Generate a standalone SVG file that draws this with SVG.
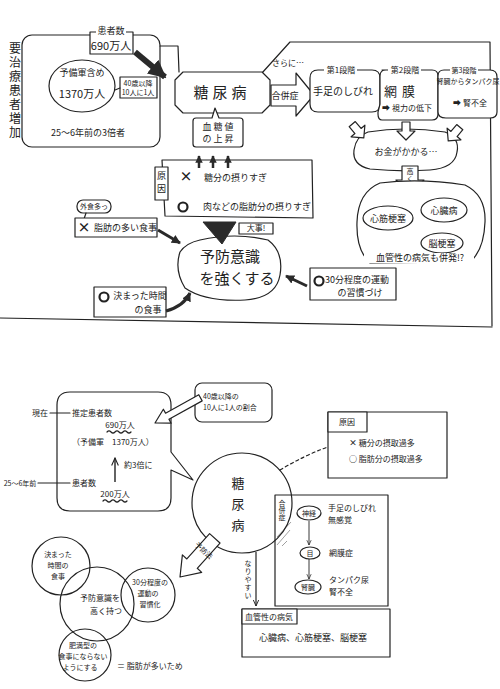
<svg xmlns="http://www.w3.org/2000/svg" width="500" height="689" viewBox="0 0 500 689">
<style>
.ln{fill:none;stroke:#222;stroke-width:1.2;stroke-linejoin:round;stroke-linecap:round}
.lw{fill:#fff;stroke:#222;stroke-width:1.2;stroke-linejoin:round}
.dk{fill:#2a2a2a;stroke:#2a2a2a}
.t{font-family:"Noto Sans CJK JP","Noto Sans",sans-serif;fill:#222;text-anchor:middle}
.s7{font-size:7px}.s8{font-size:8px}.s9{font-size:9px}.s10{font-size:10px}.s11{font-size:11px}.s13{font-size:13px}.s15{font-size:15px}
.st{text-anchor:start}
.v{writing-mode:vertical-rl;text-anchor:start}
</style>
<defs>
<marker id="ah" viewBox="0 0 10 10" refX="9" refY="5" markerWidth="3" markerHeight="3" orient="auto"><path d="M0,0 L10,5 L0,10 Z" fill="#2a2a2a"/></marker>
<marker id="at" viewBox="0 0 10 10" refX="9" refY="5" markerWidth="6" markerHeight="6" orient="auto"><path d="M0,1 L9,5 L0,9" fill="none" stroke="#222" stroke-width="1.3"/></marker>
<path id="oa" d="M-4,-9 L4,-9 L4,0 L9,0 L0,9 L-9,0 L-4,0 Z"/>
</defs>

<!-- ============ TOP HALF ============ -->
<g id="frames">
<rect class="ln" x="22" y="35" width="138" height="112" rx="10"/>
<path class="ln" d="M160,46 L178,46 L179,72"/>
<path class="ln" d="M262,73 L290,42 L490,42 L492,326"/>
<path class="ln" d="M0,318 L492,327"/>
</g>

<g id="title">
<text class="t v" x="15" y="42" style="font-size:12px;letter-spacing:2px">要治療患者増加</text>
</g>

<g id="n-patients">
<rect class="lw" x="90" y="32" width="43" height="22"/>
<rect x="96" y="27" width="30" height="8" fill="#fff"/>
<text class="t s9" x="111" y="34">患者数</text>
<text class="t s11" x="111" y="50">690万人</text>
</g>

<g id="n-reserve">
<ellipse class="ln" cx="82" cy="86" rx="33" ry="26"/>
<text class="t s9" x="82" y="76">予備軍含め</text>
<text class="t s11" x="82" y="98">1370万人</text>
</g>

<g id="n-40">
<rect class="lw" x="120" y="77" width="37" height="21"/>
<path class="ln" d="M120,88 L115,90"/>
<text class="t s7" x="138" y="86">40歳以降</text>
<text class="t s7" x="138" y="95">10人に1人</text>
</g>

<g id="n-25"><text class="t s9" x="88" y="136">25～6年前の3倍者</text></g>

<g id="n-dm">
<path class="lw" d="M183,72 L262,72 L270,80 L270,105 L262,113 L183,113 L175,105 L175,80 Z"/>
<text class="t s15" x="222" y="98" letter-spacing="4">糖尿病</text>
</g>

<g id="n-sugar">
<path class="lw" d="M196,118 L212,118 L215,108 L219,118 L240,118 Q243,118 243,121 L243,144 Q243,147 240,147 L196,147 Q193,147 193,144 L193,121 Q193,118 196,118 Z"/>
<text class="t s9" x="218" y="130">血 糖 値</text>
<text class="t s9" x="218" y="142">の 上 昇</text>
</g>

<g id="n-sarani"><text class="t s8 st" x="272" y="66">さらに…</text></g>

<g id="n-comp">
<polygon class="lw" points="271,85 296,85 296,73 314,95 296,116 296,106 271,106"/>
<text class="t s9" x="285" y="99">合併症</text>
</g>

<g id="n-s1">
<path class="lw" d="M318,70 L372,70 Q380,70 380,78 L380,104 Q380,112 372,112 L318,112 Q310,112 310,104 L310,78 Q310,70 318,70 Z"/>
<rect x="324" y="66" width="33" height="8" fill="#fff"/>
<text class="t s8" x="341" y="73">第1段階</text>
<text class="t s10" x="343" y="95">手足のしびれ</text>
</g>

<g id="n-s2">
<path class="lw" d="M382,70 L432,70 Q438,70 438,76 L438,114 Q438,120 432,120 L382,120 Q378,120 378,114 L378,112 L380,104 L380,76 Q380,70 386,70 Z"/>
<rect x="388" y="66" width="33" height="8" fill="#fff"/>
<text class="t s8" x="405" y="73">第2段階</text>
<text class="t s13" x="402" y="96" letter-spacing="5">網膜</text>
<text class="t s8" x="407" y="111">➡ 視力の低下</text>
</g>

<g id="n-s3">
<path class="lw" d="M444,70 L490,70 Q497,70 497,77 L497,112 Q497,118 490,118 L446,118 Q438,118 438,112 L438,76 Q438,70 444,70 Z"/>
<rect x="450" y="66" width="28" height="8" fill="#fff"/>
<text class="t s7" x="464" y="73">第3段階</text>
<text class="t s7" x="468" y="84">腎臓からタンパク尿</text>
<text class="t s8" x="470" y="106">➡ 腎不全</text>
</g>

<g id="n-money">
<path class="lw" d="M368,132 Q405,126 445,132 Q460,138 457,152 Q455,168 430,170 Q400,172 370,169 Q352,165 354,150 Q356,136 368,132 Z"/>
<text class="t s9" x="406" y="155">お金がかかる…</text>
</g>

<g id="n-takaku">
<polygon class="lw" points="402,166 418,166 418,180 424,180 410,195 396,180 402,180"/>
<text class="t v s7" x="410" y="168">高く</text>
</g>

<g id="n-vasc">
<path class="lw" d="M380,183 Q420,178 465,185 Q486,195 485,222 Q484,250 470,262 L370,263 Q356,250 357,222 Q358,192 380,183 Z"/>
<ellipse class="ln" cx="388" cy="218" rx="25" ry="12"/>
<text class="t s9" x="388" y="222">心筋梗塞</text>
<ellipse class="ln" cx="444" cy="210" rx="23" ry="12"/>
<text class="t s9" x="444" y="214">心臓病</text>
<ellipse class="ln" cx="442" cy="243" rx="21" ry="10"/>
<text class="t s9" x="442" y="247">脳梗塞</text>
<rect x="364" y="253" width="110" height="10" fill="#fff"/>
<text class="t s9" x="420" y="261">血管性の病気も併発!?</text>
</g>

<g id="n-cause">
<path class="lw" d="M162,160 L312,160 L313,218 L165,216 Z"/>
<rect class="lw" x="155" y="167" width="13" height="33"/>
<text class="t v s9" x="161.5" y="171" letter-spacing="4">原因</text>
<text class="t s13" x="186" y="181" font-weight="bold">×</text>
<text class="t s9 st" x="204" y="181">糖分の摂りすぎ</text>
<circle cx="183" cy="207" r="4.5" fill="none" stroke="#222" stroke-width="2.2"/>
<text class="t s9 st" x="203" y="210">肉などの脂肪分の摂りすぎ</text>
</g>

<g id="n-daiji">
<rect class="lw" x="239" y="223" width="34" height="11"/>
<text class="t s8" x="256" y="231">大事!</text>
</g>

<g id="n-prev">
<path class="lw" d="M200,240 Q235,232 268,240 Q284,252 280,275 Q276,298 245,300 Q205,302 185,288 Q174,270 180,252 Q186,243 200,240 Z"/>
<text class="t s15" x="230" y="262" fill="#444">予防意識</text>
<text class="t s15" x="237" y="284" fill="#444">を強くする</text>
</g>

<g id="n-gaishoku">
<rect class="lw" x="77" y="200" width="34" height="13" rx="6"/>
<path class="ln" d="M86,213 L84,219"/>
<text class="t s7" x="94" y="209">外食多っ</text>
</g>

<g id="n-fat">
<rect class="lw" x="75" y="218" width="82" height="19"/>
<text class="t s13" x="84" y="232" font-weight="bold">×</text>
<text class="t s9 st" x="94" y="231">脂肪の多い食事</text>
</g>

<g id="n-time">
<rect class="lw" x="94" y="287" width="72" height="30"/>
<circle cx="104" cy="297" r="4.5" fill="none" stroke="#222" stroke-width="2.2"/>
<text class="t s9" x="140" y="299">決まった時間</text>
<text class="t s9" x="148" y="313">の食事</text>
</g>

<g id="n-ex">
<rect class="lw" x="310" y="268" width="86" height="32"/>
<circle cx="319" cy="281" r="4.5" fill="none" stroke="#222" stroke-width="2.2"/>
<text class="t s9" x="357" y="283">30分程度の運動</text>
<text class="t s9" x="360" y="296">の習慣づけ</text>
</g>

<g id="connectors-top">
<path d="M135,52 L165,77" stroke="#2a2a2a" stroke-width="6" marker-end="url(#ah)" fill="none"/>
<path d="M199,168 L199,156" stroke="#2a2a2a" stroke-width="2.5" marker-end="url(#ah)"/>
<path d="M213,168 L213,156" stroke="#2a2a2a" stroke-width="2.5" marker-end="url(#ah)"/>
<path d="M228,168 L228,156" stroke="#2a2a2a" stroke-width="2.5" marker-end="url(#ah)"/>
<use href="#oa" class="lw" transform="translate(358,131) rotate(-40)"/>
<use href="#oa" class="lw" transform="translate(406,131)"/>
<use href="#oa" class="lw" transform="translate(454,134) rotate(40)"/>
<polygon class="dk" points="203,222 236,222 222,244"/>
<path d="M158,230 L180,243" stroke="#2a2a2a" stroke-width="3" marker-end="url(#ah)"/>
<path d="M166,311 Q184,306 190,293" stroke="#2a2a2a" stroke-width="3" fill="none" marker-end="url(#ah)"/>
<path d="M307,286 L286,276" stroke="#2a2a2a" stroke-width="3" marker-end="url(#ah)"/>
</g>

<!-- ============ BOTTOM HALF ============ -->
<g id="n-count">
<path class="lw" d="M70,392 L158,392 Q171,392 171,405 L171,452 L193,480 L171,470 L171,498 Q171,511 158,511 L70,511 Q57,511 57,498 L57,405 Q57,392 70,392 Z"/>
<text class="t s8" x="40" y="416">現在</text>
<path class="ln" d="M50,413 L70,413"/>
<text class="t s8 st" x="72" y="416">推定患者数</text>
<text class="t s8" x="120" y="428">690万人</text>
<path class="ln" d="M107,432 q2,-2 4,0 t4,0 t4,0 t4,0 t4,0 t4,0" stroke-width="0.8"/>
<text class="t s8 st" x="72" y="445">（予備軍　1370万人）</text>
<path d="M115,482 L115,458" stroke="#222" stroke-width="1.4" marker-end="url(#at)"/>
<text class="t s8 st" x="124" y="468">約3倍に</text>
<text class="t s7" x="20" y="486">25～6年前</text>
<path class="ln" d="M38,483 L70,483"/>
<text class="t s8 st" x="72" y="486">患者数</text>
<text class="t s8" x="115" y="497">200万人</text>
<path class="ln" d="M103,501 q2,-2 4,0 t4,0 t4,0 t4,0 t4,0 t4,0" stroke-width="0.8"/>
</g>

<g id="n-ratio">
<rect class="lw" x="195" y="383" width="77" height="39" rx="7"/>
<text class="t s7 st" x="203" y="399">40歳以降の</text>
<text class="t s7 st" x="203" y="410">10人に1人の割合</text>
</g>

<g id="n-cause2">
<rect class="lw" x="328" y="412" width="119" height="66"/>
<rect class="lw" x="328" y="412" width="39" height="20"/>
<text class="t s8" x="347" y="425">原因</text>
<text class="t s8 st" x="349" y="446"><tspan font-weight="bold">×</tspan> 糖分の摂取過多</text>
<text class="t s8 st" x="349" y="462"><tspan font-weight="bold">○</tspan> 脂肪分の摂取過多</text>
</g>

<g id="n-comp2">
<rect class="lw" x="275" y="495" width="113" height="111"/>
<path d="M276,496 L289,496 Q292,525 279,550 L276,550 Z" fill="#fff" stroke="none"/>
<path d="M277,545 L290,530 M277,537 L291,522 M282,546 L287,541" stroke="#777" stroke-width="0.7"/>
<text class="t v s7" x="282" y="500">合併症</text>
<ellipse class="lw" cx="309" cy="513" rx="12" ry="7"/>
<text class="t s7" x="309" y="516">神経</text>
<text class="t s8 st" x="328" y="511">手足のしびれ</text>
<text class="t s8 st" x="328" y="523">無感覚</text>
<ellipse class="lw" cx="310" cy="553" rx="10" ry="6"/>
<text class="t s7" x="310" y="556">目</text>
<text class="t s8 st" x="329" y="556">網膜症</text>
<ellipse class="lw" cx="308" cy="587" rx="13" ry="7"/>
<text class="t s7" x="308" y="590">腎臓</text>
<text class="t s8 st" x="329" y="583">タンパク尿</text>
<text class="t s8 st" x="329" y="595">腎不全</text>
</g>

<g id="n-dm2">
<circle class="ln" cx="242" cy="503" r="50"/>
<text class="t s13" x="238" y="488" fill="#444">糖</text>
<text class="t s13" x="238" y="509" fill="#444">尿</text>
<text class="t s13" x="238" y="530" fill="#444">病</text>
</g>

<g id="n-vasc2">
<rect class="lw" x="242" y="609" width="148" height="48"/>
<rect class="lw" x="242" y="609" width="55" height="15"/>
<text class="t s8" x="269" y="620">血管性の病気</text>
<text class="t s9" x="313" y="641">心臓病、心筋梗塞、脳梗塞</text>
</g>

<g id="n-c1">
<circle class="ln" cx="61" cy="566" r="29"/>
<text class="t s7" x="58" y="557">決まった</text>
<text class="t s7" x="58" y="568">時間の</text>
<text class="t s7" x="58" y="579">食事</text>
</g>
<g id="n-c2">
<circle class="ln" cx="97" cy="604" r="37"/>
<text class="t s8" x="100" y="601">予防意識を</text>
<text class="t s8" x="106" y="614">高く持つ</text>
</g>
<g id="n-c3">
<circle class="ln" cx="148" cy="595" r="27"/>
<text class="t s7" x="150" y="585">30分程度の</text>
<text class="t s7" x="148" y="596">運動の</text>
<text class="t s7" x="150" y="607">習慣化</text>
</g>
<g id="n-c4">
<circle class="ln" cx="85" cy="655" r="26"/>
<text class="t s7" x="83" y="648">肥満型の</text>
<text class="t s7" x="83" y="659">食事にならない</text>
<text class="t s7" x="80" y="670">ようにする</text>
</g>
<g id="n-note"><text class="t s8 st" x="117" y="669">＝ 脂肪が多いため</text></g>

<g id="connectors-bottom">
<polygon class="lw" points="0,0 14,-8 14,-3.5 52,-3.5 52,3.5 14,3.5 14,8" transform="translate(155,423) rotate(-29)"/>
<path class="ln" d="M280,470 Q305,455 328,447" stroke-dasharray="3,3"/>
<path d="M256,552 L256,606" stroke="#222" stroke-width="1.2" marker-end="url(#at)"/>
<text class="t v s7" x="248" y="560" letter-spacing="1">なりやすい</text>
<path d="M309,521 L309,545" stroke="#222" stroke-width="0.9" marker-end="url(#at)"/>
<path d="M309,559 L309,579" stroke="#222" stroke-width="0.9" marker-end="url(#at)"/>
<g transform="translate(180,577) rotate(-48)">
<polygon class="lw" points="0,0 18,-13 18,-7 52,-7 52,7 18,7 18,13"/>
<text class="t s7" x="36" y="3" transform="rotate(90,36,0)">予防法</text>
</g>
</g>
</svg>
